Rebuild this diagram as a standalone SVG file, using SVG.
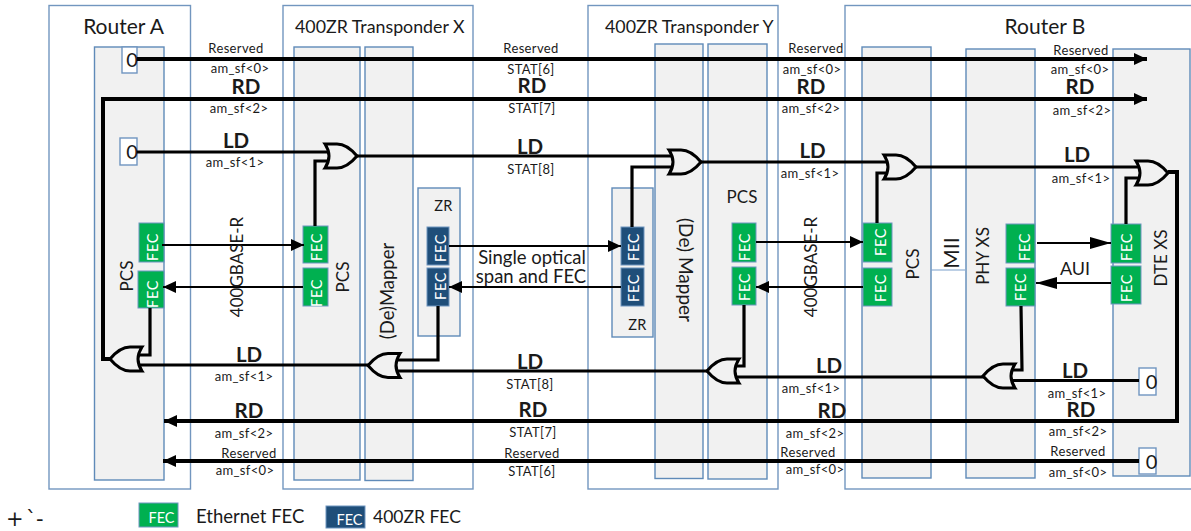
<svg xmlns="http://www.w3.org/2000/svg" width="1191" height="531" viewBox="0 0 1191 531">
<style>
text{font-family:"Lato","Liberation Sans",sans-serif;fill:#1a1a1a}
.o{fill:#fff;stroke:#7296bf;stroke-width:1.4}
.c{fill:#f1f1f1;stroke:#5f8ab8;stroke-width:1.4}
.z{fill:#fff;stroke:#6f95c0;stroke-width:1.4}
.g{fill:#00b050;stroke:#6f95c0;stroke-width:1}
.d{fill:#1f4e79;stroke:#6f95c0;stroke-width:1}
.t{font-size:17.800px}
.r{font-size:21px;text-anchor:middle}
.s{font-size:13px;text-anchor:middle;letter-spacing:.35px}
.b{font-size:20.500px;font-weight:700;text-anchor:middle}
.m{font-size:17px;text-anchor:middle}
.l{font-size:18.500px;text-anchor:middle}
.n{font-size:20px;text-anchor:middle}
.f{font-size:14.500px;text-anchor:middle;fill:#fff;letter-spacing:.6px}
.w{fill:none;stroke:#000;stroke-linejoin:miter}
.w4{stroke-width:4}
.w3{stroke-width:3.2}
.w2{stroke-width:2}
.gate{fill:none;stroke:#000;stroke-width:3}
</style>
<defs>
<marker id="a" markerUnits="userSpaceOnUse" markerWidth="14" markerHeight="14" refX="13" refY="7" orient="auto"><path d="M0,1 L13,7 L0,13 Z" fill="#000"/></marker>
<marker id="al" markerUnits="userSpaceOnUse" markerWidth="22" markerHeight="14" refX="21" refY="7" orient="auto"><path d="M0,1 L21,7 L0,13 Z" fill="#000"/></marker>
<path id="or" d="M0,0 H12 C21,0 27,6 32,12 C27,18 21,24 12,24 H0 Q8,12 0,0 Z"/>
</defs>

<g id="router-a">
<rect class="o" x="49" y="5.500" width="141.500" height="483.500"/>
<rect class="c" x="94.500" y="47" width="69.500" height="433"/>
<text class="r" x="123.500" y="34">Router A</text>
<text class="m" transform="translate(133,276) rotate(-90)">PCS</text>
</g>
<g id="transponder-x">
<rect class="o" x="283" y="5.500" width="190" height="483.500"/>
<rect class="c" x="294" y="47" width="66" height="433"/>
<rect class="c" x="365" y="47" width="48" height="433.500"/>
<rect class="c" x="418" y="188" width="42" height="148"/>
<text class="t" x="295" y="32.500">400ZR Transponder X</text>
<text class="m" transform="translate(349,277) rotate(-90)">PCS</text>
<text class="l" transform="translate(394,291) rotate(-90)">(De)Mapper</text>
<text class="s" x="443.500" y="211" style="font-size:14.500px">ZR</text>
</g>
<g id="transponder-y">
<rect class="o" x="588" y="5.500" width="190" height="483.500"/>
<rect class="c" x="612" y="188" width="41" height="149"/>
<rect class="c" x="655" y="44" width="48" height="434.500"/>
<rect class="c" x="708" y="44" width="59" height="435"/>
<text class="t" x="605" y="32.500">400ZR Transponder Y</text>
<text class="s" x="637.500" y="330" style="font-size:14.500px">ZR</text>
<text class="l" transform="translate(679,270) rotate(90)" style="font-size:19px">(De) Mapper</text>
<text class="m" x="742" y="203">PCS</text>
</g>
<g id="router-b">
<rect class="o" x="845" y="5.500" width="352" height="483.500"/>
<rect class="c" x="862" y="47" width="69" height="431"/>
<rect class="c" x="966" y="49" width="69" height="429"/>
<rect class="c" x="1113" y="49" width="77" height="427"/>
<path d="M931,270 H965" fill="none" stroke="#7aa0cc" stroke-width="1.200"/>
<text class="r" x="1045" y="34">Router B</text>
<text class="m" transform="translate(919,264) rotate(-90)">PCS</text>
<text class="m" transform="translate(959,253) rotate(-90)" style="font-size:21px">MII</text>
<text class="m" transform="translate(989,256) rotate(-90)">PHY XS</text>
<text class="m" transform="translate(1167,258) rotate(-90)">DTE XS</text>
</g>

<g id="zero-sources">
<rect class="z" x="122" y="47" width="15" height="26"/><text class="n" x="132" y="67">0</text>
<rect class="z" x="120" y="138" width="17" height="27"/><text class="n" x="132" y="159">0</text>
<rect class="z" x="1139" y="368" width="17" height="27"/><text class="n" x="1151.500" y="389">0</text>
<rect class="z" x="1139" y="448" width="17" height="26"/><text class="n" x="1151.500" y="469">0</text>
</g>

<g id="fec-blocks">
<rect class="g" x="139" y="223" width="25" height="39"/><text class="f" transform="translate(158,247) rotate(-90)">FEC</text>
<rect class="g" x="138" y="271" width="26" height="37"/><text class="f" transform="translate(158,294) rotate(-90)">FEC</text>
<rect class="g" x="303" y="226" width="25" height="37"/><text class="f" transform="translate(322,247) rotate(-90)">FEC</text>
<rect class="g" x="303" y="268" width="25" height="38"/><text class="f" transform="translate(322,293) rotate(-90)">FEC</text>
<rect class="d" x="427" y="227" width="22" height="38"/><text class="f" transform="translate(446,248) rotate(-90)">FEC</text>
<rect class="d" x="427" y="268" width="22" height="38"/><text class="f" transform="translate(446,286) rotate(-90)">FEC</text>
<rect class="d" x="621" y="227" width="23" height="38"/><text class="f" transform="translate(639,247) rotate(-90)">FEC</text>
<rect class="d" x="621" y="268" width="23" height="38"/><text class="f" transform="translate(639,288) rotate(-90)">FEC</text>
<rect class="g" x="732" y="223" width="24" height="39"/><text class="f" transform="translate(750,247) rotate(-90)">FEC</text>
<rect class="g" x="732" y="267" width="24" height="38"/><text class="f" transform="translate(750,287) rotate(-90)">FEC</text>
<rect class="g" x="863" y="223" width="29" height="39"/><text class="f" transform="translate(886,242) rotate(-90)">FEC</text>
<rect class="g" x="863" y="268" width="29" height="38"/><text class="f" transform="translate(886,288) rotate(-90)">FEC</text>
<rect class="g" x="1006" y="224" width="29" height="39"/><text class="f" transform="translate(1030,247) rotate(-90)">FEC</text>
<rect class="g" x="1006" y="268" width="29" height="38"/><text class="f" transform="translate(1026,287) rotate(-90)">FEC</text>
<rect class="g" x="1111" y="224" width="30" height="39"/><text class="f" transform="translate(1132,247) rotate(-90)">FEC</text>
<rect class="g" x="1111" y="266" width="30" height="38"/><text class="f" transform="translate(1132,288) rotate(-90)">FEC</text>
</g>

<g id="connectors">
<path class="w w4" d="M137,59 H1147" marker-end="url(#a)"/>
<path class="w w4" d="M111,359 H103 V99 H1147" marker-end="url(#a)"/>
<path class="w w3" d="M137,152 H328"/>
<path class="w w3" d="M315,226 V161 H328"/>
<path class="w w3" d="M357,156 H672"/>
<path class="w w3" d="M632,227 V167 H672"/>
<path class="w w3" d="M700,162 H887"/>
<path class="w w3" d="M877,223 V173 H887"/>
<path class="w w3" d="M916,167 H1139"/>
<path class="w w3" d="M1126,224 V178 H1139"/>
<path class="w w4" d="M1168,172 H1177 V421 H164" marker-end="url(#a)"/>
<path class="w w4" d="M1139,461 H163" marker-end="url(#a)"/>
<path class="w w3" d="M1139,380.500 H1012"/>
<path class="w w3" d="M1021,306 L1022,370 H1012"/>
<path class="w w3" d="M984,377 H736"/>
<path class="w w3" d="M744,305 V366 H736"/>
<path class="w w3" d="M707,371 H396"/>
<path class="w w3" d="M438,306 V360 H396"/>
<path class="w w3" d="M369,365 H139"/>
<path class="w w3" d="M150,308 V355 H139"/>
<path class="w w2" d="M162,245 H304" marker-end="url(#a)"/>
<path class="w w2" d="M303,287 H163" marker-end="url(#a)"/>
<path class="w w2" d="M449,246 H621" marker-end="url(#a)"/>
<path class="w w2" d="M621,287 H449" marker-end="url(#a)"/>
<path class="w w2" d="M756,242 H863" marker-end="url(#a)"/>
<path class="w w2" d="M863,287 H756" marker-end="url(#a)"/>
<path class="w w2" d="M1037,243 H1111" marker-end="url(#al)"/>
<path class="w w2" d="M1111,283 H1036" marker-end="url(#al)"/>
</g>

<g id="or-gates">
<use href="#or" class="gate" transform="translate(325,144)"/>
<use href="#or" class="gate" transform="translate(669,150)"/>
<use href="#or" class="gate" transform="translate(884,155)"/>
<use href="#or" class="gate" transform="translate(1136,161)"/>
<use href="#or" class="gate" transform="translate(142,347) scale(-1,1)"/>
<use href="#or" class="gate" transform="translate(400,353.500) scale(-1,1)"/>
<use href="#or" class="gate" transform="translate(739,359) scale(-1,1)"/>
<use href="#or" class="gate" transform="translate(1015,364) scale(-1,1)"/>
</g>

<g id="labels">
<text class="s" x="236" y="53">Reserved</text><text class="s" x="240" y="73">am_sf&lt;0&gt;</text>
<text class="b" x="246" y="94">RD</text><text class="s" x="239" y="113">am_sf&lt;2&gt;</text>
<text class="b" x="236" y="148">LD</text><text class="s" x="235" y="167">am_sf&lt;1&gt;</text>
<text class="s" x="531" y="53">Reserved</text><text class="s" x="531" y="74">STAT[6]</text>
<text class="b" x="532" y="93">RD</text><text class="s" x="532" y="113">STAT[7]</text>
<text class="b" x="530" y="154">LD</text><text class="s" x="531" y="174">STAT[8]</text>
<text class="s" x="816" y="53">Reserved</text><text class="s" x="812" y="74">am_sf&lt;0&gt;</text>
<text class="b" x="811" y="94">RD</text><text class="s" x="811" y="113">am_sf&lt;2&gt;</text>
<text class="b" x="812.500" y="158">LD</text><text class="s" x="810" y="178">am_sf&lt;1&gt;</text>
<text class="s" x="1081" y="55">Reserved</text><text class="s" x="1080" y="74">am_sf&lt;0&gt;</text>
<text class="b" x="1080" y="94">RD</text><text class="s" x="1082" y="115">am_sf&lt;2&gt;</text>
<text class="b" x="1077" y="162">LD</text><text class="s" x="1081" y="183">am_sf&lt;1&gt;</text>
<text class="b" x="249" y="362">LD</text><text class="s" x="244" y="381">am_sf&lt;1&gt;</text>
<text class="b" x="249" y="418">RD</text><text class="s" x="244" y="438">am_sf&lt;2&gt;</text>
<text class="s" x="249" y="458">Reserved</text><text class="s" x="245" y="475">am_sf&lt;0&gt;</text>
<text class="b" x="530" y="369">LD</text><text class="s" x="530" y="389">STAT[8]</text>
<text class="b" x="533" y="417">RD</text><text class="s" x="533" y="437">STAT[7]</text>
<text class="s" x="532" y="458">Reserved</text><text class="s" x="532" y="476">STAT[6]</text>
<text class="b" x="829" y="373">LD</text><text class="s" x="811" y="393">am_sf&lt;1&gt;</text>
<text class="b" x="832" y="418">RD</text><text class="s" x="815" y="438">am_sf&lt;2&gt;</text>
<text class="s" x="808" y="457">Reserved</text><text class="s" x="815" y="474">am_sf&lt;0&gt;</text>
<text class="b" x="1075" y="378">LD</text><text class="s" x="1077" y="398">am_sf&lt;1&gt;</text>
<text class="b" x="1081" y="417">RD</text><text class="s" x="1078" y="436">am_sf&lt;2&gt;</text>
<text class="s" x="1078" y="456">Reserved</text><text class="s" x="1078" y="477">am_sf&lt;0&gt;</text>
<text class="m" transform="translate(243,267) rotate(-90)">400GBASE-R</text>
<text class="m" transform="translate(817,267) rotate(-90)">400GBASE-R</text>
<text class="l" x="532" y="264">Single optical</text>
<text class="l" x="531" y="283">span and FEC</text>
<text class="m" x="1075" y="275" style="font-size:18px">AUI</text>
</g>

<g id="legend">
<text x="6 26 36" y="526" style="font-family:'DejaVu Sans',sans-serif;font-size:21px">+`-</text>
<rect class="g" x="139" y="503" width="39" height="24"/>
<text class="f" x="161.500" y="523" style="letter-spacing:0">FEC</text>
<text x="196" y="523" style="font-size:18.500px">Ethernet FEC</text>
<rect class="d" x="326" y="506" width="39" height="22"/>
<text class="f" x="349.500" y="525" style="letter-spacing:0">FEC</text>
<text x="373" y="523" style="font-size:17.500px">400ZR FEC</text>
</g>
</svg>
